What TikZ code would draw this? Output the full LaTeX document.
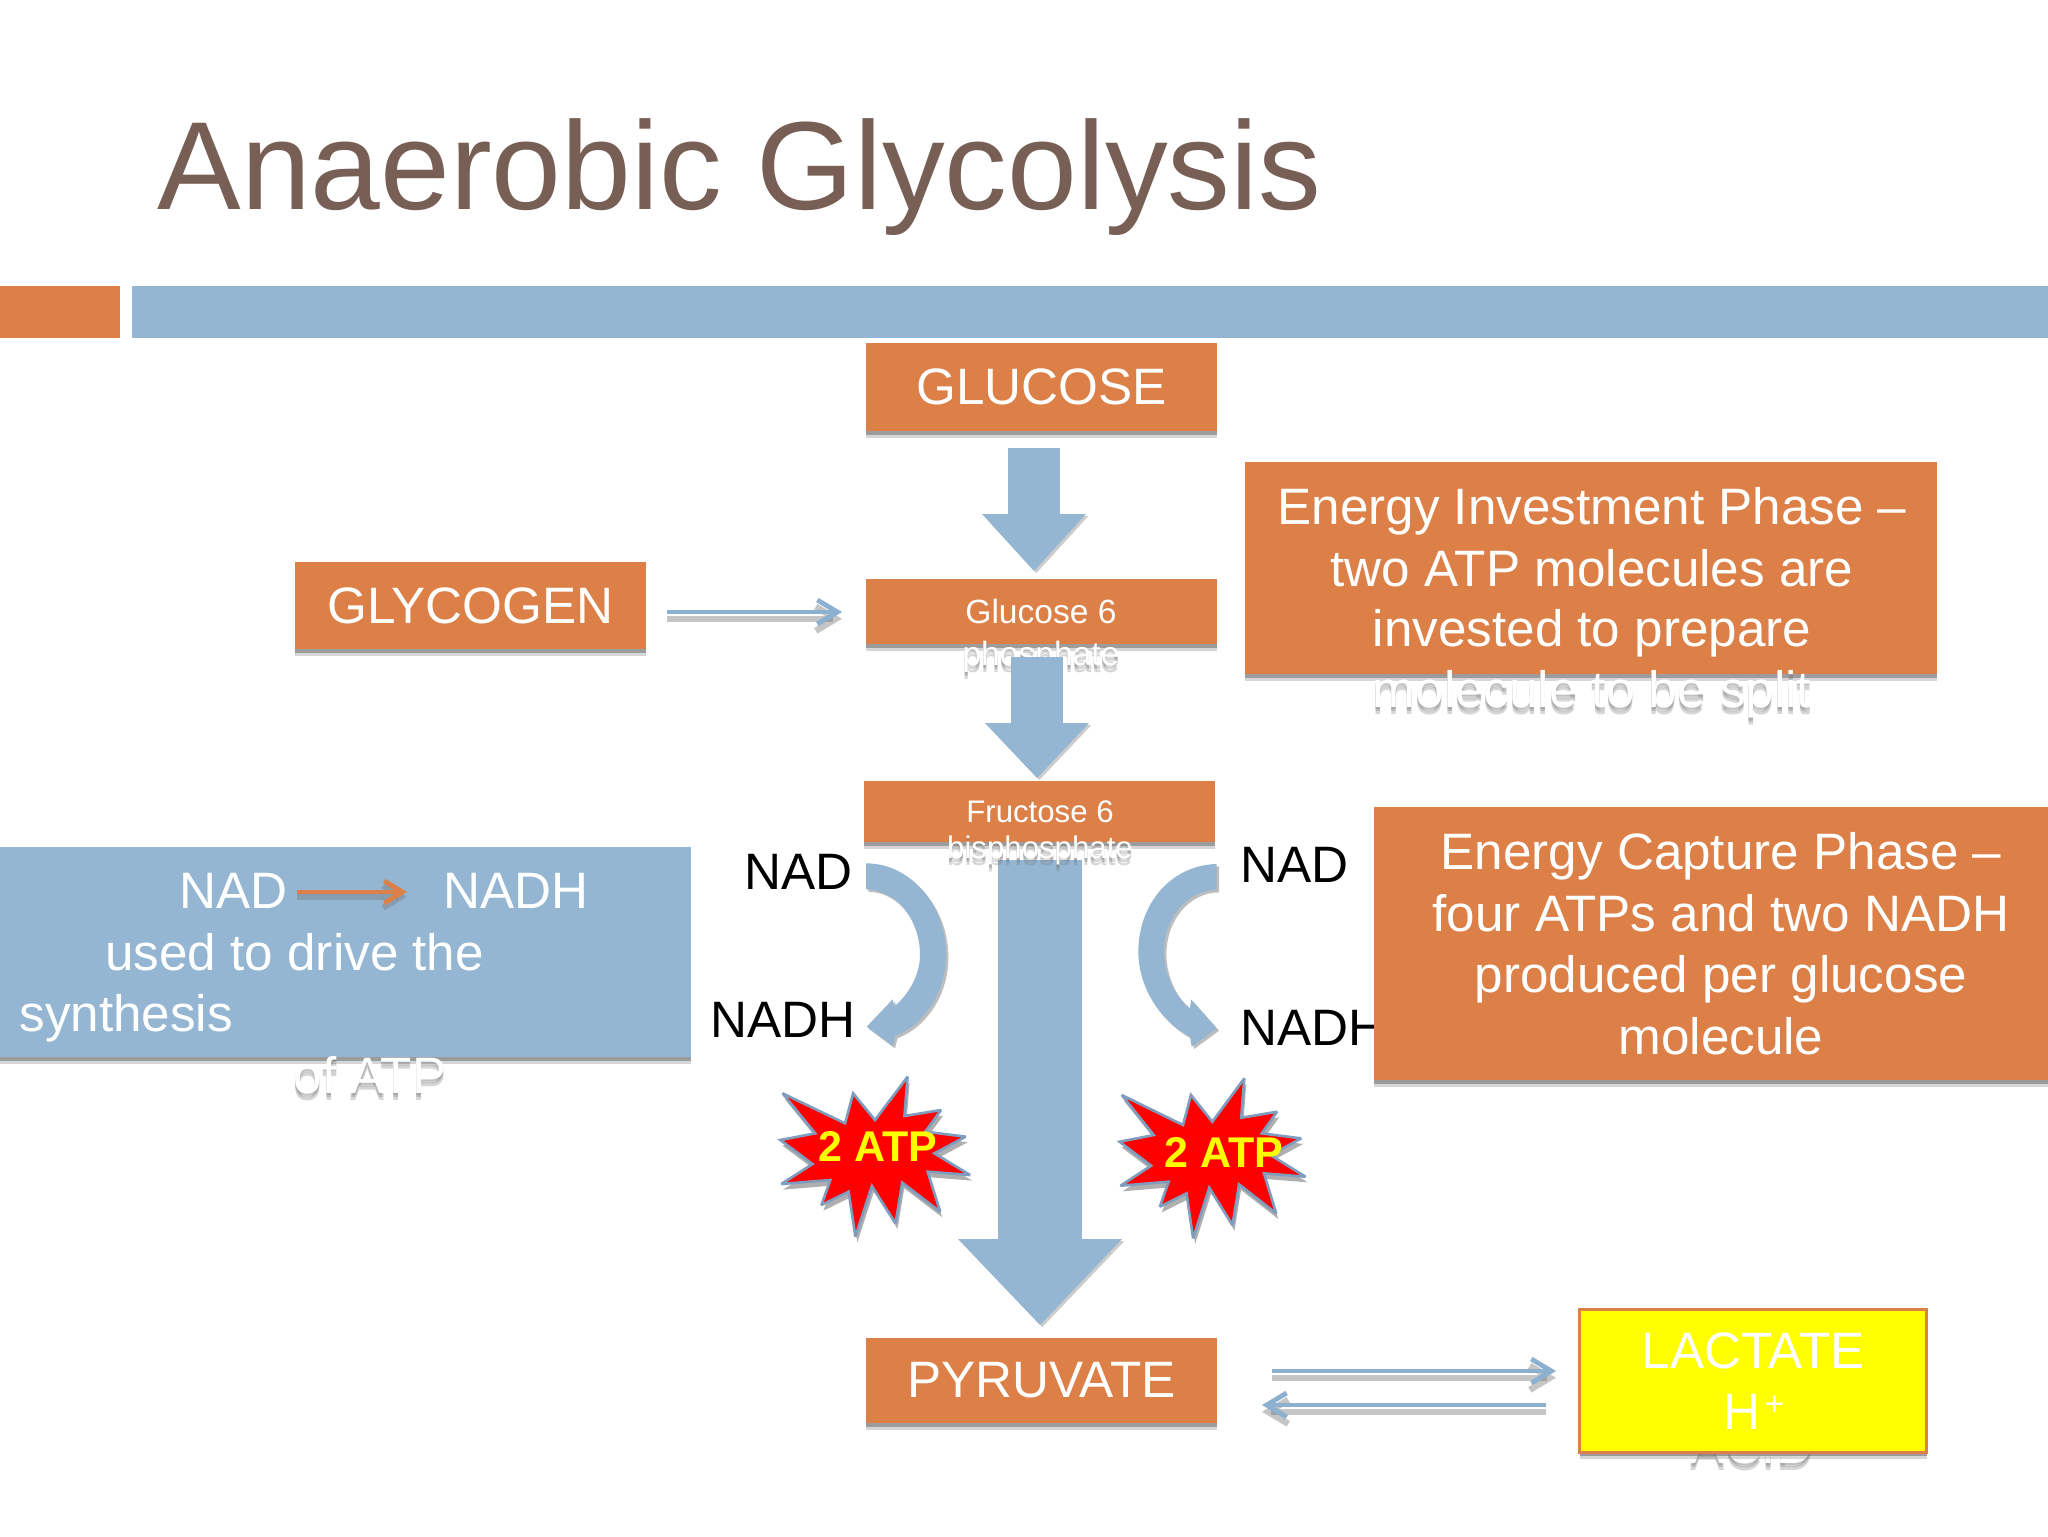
\documentclass[tikz,border=0pt]{standalone}
\usepackage{fontspec}
\setmainfont{Liberation Sans}
\usetikzlibrary{arrows.meta,shadows}
\definecolor{slideorange}{RGB}{220,128,72}
\definecolor{slideblue}{RGB}{148,182,210}
\definecolor{linkblue}{RGB}{140,176,208}
\definecolor{titlebrown}{RGB}{119,95,85}
\definecolor{starline}{RGB}{127,157,190}
\definecolor{softgray}{RGB}{110,110,110}
\definecolor{pureyellow}{RGB}{255,255,0}
\definecolor{purered}{RGB}{255,0,0}
\tikzset{
  px/.style={font=\fontsize{25.6}{30}\selectfont},
  smalltxt/.style={font=\fontsize{16.8}{20}\selectfont},
  fructtxt/.style={font=\fontsize{15.6}{20}\selectfont},
  txt/.style={inner sep=0pt,anchor=base,px},
  whitetxt/.style={txt,text=white},
  blacktxt/.style={txt,text=black},
  boxshade/.style={
    general shadow={shadow yshift=-3.6pt,fill=softgray,opacity=.28},
    general shadow={shadow yshift=-2.2pt,fill=softgray,opacity=.55}},
  orangebox/.style={fill=slideorange,draw=none,inner sep=0pt,text=white,px,boxshade},
  bluebox/.style={fill=slideblue,draw=none,inner sep=0pt,boxshade},
  block/.style={draw=slideblue,
    preaction={draw=softgray,opacity=.35,transform canvas={xshift=1.2pt,yshift=-1pt}}},
  thinlink/.style={draw=linkblue,line width=2.4pt,
    -{Straight Barb[length=10pt,width=12pt]},
    preaction={draw=softgray,opacity=.4,line width=3.2pt,transform canvas={yshift=-3.4pt}}},
  curve/.style={fill=slideblue,draw=none,
    preaction={fill=softgray,fill opacity=.45,transform canvas={xshift=1.2pt,yshift=-1.2pt}}},
  burst/.style={fill=purered,draw=starline,line width=1.3pt,line join=miter,miter limit=2.5,
    preaction={fill=softgray,fill opacity=.55,draw=none,transform canvas={xshift=1pt,yshift=-2.8pt}}},
  burstlabel/.style={inner sep=0pt,anchor=base,text=pureyellow,font=\fontsize{21.5}{26}\selectfont\bfseries},
}
\newcommand\ghostline[4]{%
  \node[#3,text=softgray,text opacity=.22,inner sep=0pt,anchor=base] (#1s1) at ([yshift=-1.2pt]#2) {#4};
  \node[#3,text=softgray,text opacity=.28,inner sep=0pt,anchor=base] (#1s2) at ([yshift=-2.4pt]#2) {#4};
  \node[#3,text=softgray,text opacity=.28,inner sep=0pt,anchor=base] (#1s3) at ([yshift=-3.6pt]#2) {#4};
  \node[#3,text=white,inner sep=0pt,anchor=base] (#1) at (#2) {#4};
}
\newcommand\burstpts{(185,160) -- (325,250) -- (343,160) -- (392,240) -- (465,110) -- (458,228) -- (540,210) -- (505,275) -- (595,290) -- (525,340) -- (605,405) -- (510,395) -- (538,515) -- (453,428) -- (438,550) -- (385,438) -- (348,590) -- (333,455) -- (272,495) -- (292,420) -- (182,432) -- (252,372) -- (180,300) -- (258,280) -- cycle}
\begin{document}
\begin{tikzpicture}[x=.5pt,y=-.5pt]
\useasboundingbox (0,0) rectangle (2048,1536);
\fill[white] (0,0) rectangle (2048,1536);

% title and bars
\node[inner sep=0pt,anchor=base west,text=titlebrown,font=\fontsize{62.7}{70}\selectfont] (title) at (157,209) {Anaerobic Glycolysis};
\fill[slideorange] (0,286) rectangle (120,338);
\fill[slideblue] (132,286) rectangle (2048,338);

% boxes of the pathway
\node[orangebox,minimum width=175.5pt,minimum height=44pt] (glucose) at (1041.5,387) {GLUCOSE};
\node[orangebox,minimum width=175.5pt,minimum height=43.5pt] (glycogen) at (470.5,605.5) {GLYCOGEN};
\node[orangebox,minimum width=175.5pt,minimum height=32.5pt] (g6p) at (1041.5,611.5) {};
\node[orangebox,minimum width=175.5pt,minimum height=30.5pt] (f6p) at (1039.5,811.5) {};
\node[orangebox,minimum width=175.5pt,minimum height=42.5pt] (pyruvate) at (1041.5,1380.5) {PYRUVATE};

% lines of g6p and f6p
\node[whitetxt,smalltxt] (g6pa) at (1041,623) {Glucose 6};
\ghostline{g6pb}{1041,665}{smalltxt}{phosphate}
\node[whitetxt,fructtxt] (f6pa) at (1040,822) {Fructose 6};

% invest phase
\node[orangebox,minimum width=346pt,minimum height=106pt] (invest) at (1591,568) {};
\node[whitetxt] (inva) at (1592,524) {Energy Investment Phase –};
\node[whitetxt] (invb) at (1592,586) {two ATP molecules are};
\node[whitetxt] (invc) at (1592,646) {invested to prepare};
\ghostline{invd}{1592,707}{px}{molecule to be split}

% black labels
\node[blacktxt,anchor=base west] (nadl) at (744,889) {NAD};
\node[blacktxt,anchor=base west] (nadhl) at (710,1037) {NADH};
\node[blacktxt,anchor=base west] (nadr) at (1240,882) {NAD};
\node[blacktxt,anchor=base west] (nadhr) at (1240,1045) {NADH};

% capture phase
\node[orangebox,minimum width=337pt,minimum height=136.5pt] (capture) at (1711,943.5) {};
\node[whitetxt] (capa) at (1721,869) {Energy Capture Phase –};
\node[whitetxt] (capb) at (1721,931) {four ATPs and two NADH};
\node[whitetxt] (capc) at (1721,992) {produced per glucose};
\node[whitetxt] (capd) at (1721,1054) {molecule};

% NAD box
\node[bluebox,minimum width=345.5pt,minimum height=105pt] (nadbox) at (345.5,952) {};
\node[whitetxt,anchor=base west] (nadtxt) at (179,908) {NAD};
\node[whitetxt,anchor=base west] (nadhtxt) at (443,908) {NADH};
\node[whitetxt,anchor=base west] (drive) at (105,970) {used to drive the};
\node[whitetxt,anchor=base west] (synth) at (19,1031) {synthesis};
\ghostline{ofatp}{370,1093}{px}{of ATP}

% block arrows
\coordinate (a1s) at (1034,448);
\coordinate (a1e) at (1034,571);
\coordinate (a2s) at (1037,657);
\coordinate (a2e) at (1037,778);
\coordinate (a3s) at (1040,860);
\coordinate (a3e) at (1040,1325);
\draw[block,line width=26pt,-{Triangle[length=28.5pt,width=52pt,line width=0pt]}] (a1s) -- (a1e);
\draw[block,line width=26pt,-{Triangle[length=27.5pt,width=52pt,line width=0pt]}] (a2s) -- (a2e);
\draw[block,line width=42pt,-{Triangle[length=43pt,width=82pt,line width=0pt]}] (a3s) -- (a3e);
\ghostline{f6pb}{1040,858}{fructtxt}{bisphosphate}

% thin arrows
\coordinate (gl1) at (667,612);
\coordinate (gl2) at (842,612);
\draw[thinlink] (gl1) -- (gl2);
\coordinate (py1) at (1272,1371);
\coordinate (py2) at (1556,1371);
\coordinate (py3) at (1546,1405);
\coordinate (py4) at (1262,1405);
\draw[thinlink] (py1) -- (py2);
\draw[thinlink] (py3) -- (py4);
\coordinate (nn1) at (297,892);
\coordinate (nn2) at (407,892);
\draw[draw=slideorange,line width=2.4pt,-{Straight Barb[length=9pt,width=11pt]},
  preaction={draw=softgray,opacity=.35,line width=3pt,transform canvas={yshift=-2.4pt}}]
  (nn1) -- (nn2);

% curved arrows
\begin{scope}[shift={(840,830)},x=.16667pt,y=-.16667pt]
\path[curve] (78,100) .. controls (215,100) and (318,230) .. (318,375) .. controls (318,480) and (260,580) .. (165,618) -- (158,648) -- (80,590) -- (158,508) -- (162,530) .. controls (210,490) and (240,430) .. (240,375) .. controls (240,270) and (170,180) .. (78,178) -- cycle;
\end{scope}
\begin{scope}[shift={(1110,840)},x=.16667pt,y=-.16667pt]
\path[curve] (320,72) .. controls (185,75) and (85,190) .. (85,335) .. controls (85,440) and (150,545) .. (240,590) -- (245,620) -- (320,565) -- (243,478) -- (240,505) .. controls (190,465) and (162,400) .. (162,335) .. controls (162,235) and (230,150) .. (320,150) -- cycle;
\end{scope}

% bursts
\begin{scope}[shift={(700,1040)},x=.2232pt,y=-.16667pt]
\path[burst] \burstpts;
\end{scope}
\begin{scope}[shift={(1040.85,1041.7)},x=.21875pt,y=-.16667pt]
\path[burst] \burstpts;
\end{scope}
\node[burstlabel] (atpl) at (878,1161) {2 ATP};
\node[burstlabel] (atpr) at (1224,1167) {2 ATP};

% lactate
\ghostline{acid}{1752,1463}{px}{ACID}
\node[fill=pureyellow,draw=slideorange,line width=1.5pt,inner sep=0pt,minimum width=173.5pt,minimum height=71.5pt,boxshade] (lactate) at (1753.3,1380.5) {};
\node[whitetxt] (lacta) at (1753,1368) {LACTATE};
\node[whitetxt] (lactb) at (1754,1429) {H\kern2pt\raisebox{7pt}{\fontsize{17}{17}\selectfont +}};
\end{tikzpicture}
\end{document}
